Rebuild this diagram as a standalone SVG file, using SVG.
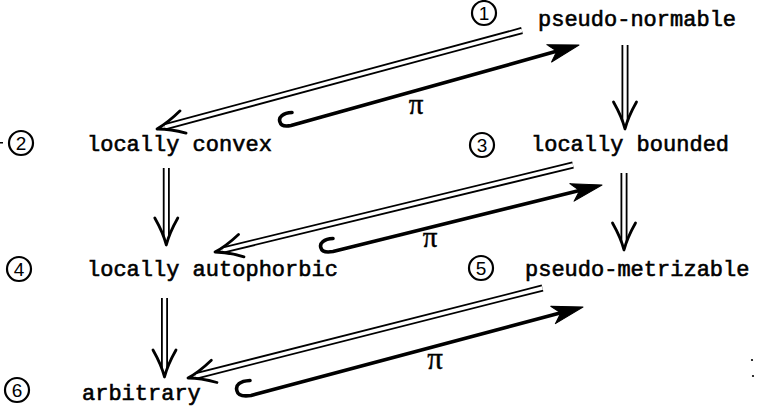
<svg xmlns="http://www.w3.org/2000/svg" xmlns:xlink="http://www.w3.org/1999/xlink" width="768" height="409" viewBox="0 0 768 409">
<style>
.bg{fill:#fff}
.lbl{font-family:"Liberation Mono","Courier New",monospace;font-size:22px;fill:#000;stroke:#000;stroke-width:0.6}
.num{font-family:"Liberation Sans",Arial,sans-serif;font-size:19px;fill:#000;text-anchor:middle}
.ring{fill:none;stroke:#000;stroke-width:2.2}
.pi{font-family:"Liberation Serif","Times New Roman",serif;font-size:29px;fill:#000;stroke:#000;stroke-width:0.4;text-anchor:middle}
.dblO{fill:none;stroke:#000;stroke-width:7}
.dblI{fill:none;stroke:#fff;stroke-width:3.4}
.thick{fill:none;stroke:#000;stroke-width:3.6;stroke-linecap:round;stroke-linejoin:round}
.speck{fill:#000}
</style>
<defs>
<path id="vhead" d="M-27,-11.5 Q-12,-3 0,0 Q-12,3 -27,11.5" fill="none" stroke="#000" stroke-width="2.8" stroke-linecap="round" stroke-linejoin="round"/>
<path id="fhead" d="M0,0 L-31,-9 L-23,0 L-31,9 Z" fill="#000" stroke="#000" stroke-width="1" stroke-linejoin="round"/>
</defs>
<rect class="bg" x="0" y="0" width="768" height="409"/>

<g id="connectors">
  <!-- 1 -> 2 double -->
  <path class="dblO" d="M522,30.5 L164.7,126.9"/>
  <path class="dblI" d="M522,30.5 L164.7,126.9"/>
  <use xlink:href="#vhead" href="#vhead" transform="translate(157,129) rotate(164.9)"/>
  <!-- 2 -> 1 pi -->
  <path class="thick" d="M292,112.5 C283,113 278,117 280,122 C281,126 286,126.5 291,125.5 L561.7,49.8"/>
  <use xlink:href="#fhead" href="#fhead" transform="translate(579,45) rotate(-15.6)"/>
  <text class="pi" x="416" y="114">π</text>

  <!-- 1 -> 3 -->
  <path class="dblO" d="M625,45 V121"/>
  <path class="dblI" d="M625,45 V121"/>
  <use xlink:href="#vhead" href="#vhead" transform="translate(625,129) rotate(90)"/>

  <!-- 2 -> 4 -->
  <path class="dblO" d="M166.3,168 V237"/>
  <path class="dblI" d="M166.3,168 V237"/>
  <use xlink:href="#vhead" href="#vhead" transform="translate(166.3,245) rotate(90)"/>

  <!-- 3 -> 4 double -->
  <path class="dblO" d="M573,165 L222.8,250.1"/>
  <path class="dblI" d="M573,165 L222.8,250.1"/>
  <use xlink:href="#vhead" href="#vhead" transform="translate(215,252) rotate(166.3)"/>
  <!-- 4 -> 3 pi -->
  <path class="thick" d="M333,238.5 C324,239 319,243 321,248 C322,252 327,252.5 333,251.5 L584.5,189.3"/>
  <use xlink:href="#fhead" href="#fhead" transform="translate(602,185) rotate(-13.9)"/>
  <text class="pi" x="430" y="247">π</text>

  <!-- 3 -> 5 -->
  <path class="dblO" d="M624,173 V242"/>
  <path class="dblI" d="M624,173 V242"/>
  <use xlink:href="#vhead" href="#vhead" transform="translate(624,250) rotate(90)"/>

  <!-- 4 -> 6 -->
  <path class="dblO" d="M164.5,298 V369"/>
  <path class="dblI" d="M164.5,298 V369"/>
  <use xlink:href="#vhead" href="#vhead" transform="translate(164.5,377) rotate(90)"/>

  <!-- 5 -> 6 double -->
  <path class="dblO" d="M542.5,288 L195.8,376"/>
  <path class="dblI" d="M542.5,288 L195.8,376"/>
  <use xlink:href="#vhead" href="#vhead" transform="translate(188,378) rotate(165.75)"/>
  <!-- 6 -> 5 pi -->
  <path class="thick" d="M250,380.5 C240,381 235,385 237,391 C238,396 244,396.5 251,395.5 L565.6,311.6"/>
  <use xlink:href="#fhead" href="#fhead" transform="translate(583,307) rotate(-14.9)"/>
  <text class="pi" x="435" y="369" style="font-size:31px">π</text>
</g>

<g id="n1">
  <circle class="ring" cx="484" cy="13" r="12"/>
  <text class="num" x="484" y="20">1</text>
  <text class="lbl" x="538" y="26">pseudo-normable</text>
</g>
<g id="n2">
  <circle class="ring" cx="21" cy="143" r="12"/>
  <text class="num" x="21" y="150">2</text>
  <text class="lbl" x="87" y="151">locally convex</text>
</g>
<g id="n3">
  <circle class="ring" cx="482" cy="145" r="12"/>
  <text class="num" x="482" y="152">3</text>
  <text class="lbl" x="531" y="151">locally bounded</text>
</g>
<g id="n4">
  <circle class="ring" cx="19" cy="269" r="12"/>
  <text class="num" x="19" y="276">4</text>
  <text class="lbl" x="87" y="276">locally autophorbic</text>
</g>
<g id="n5">
  <circle class="ring" cx="481" cy="268" r="12"/>
  <text class="num" x="481" y="275">5</text>
  <text class="lbl" x="525" y="276">pseudo-metrizable</text>
</g>
<g id="n6">
  <circle class="ring" cx="17" cy="390" r="12"/>
  <text class="num" x="17" y="397">6</text>
  <text class="lbl" x="82" y="400">arbitrary</text>
</g>

<g id="specks">
  <circle class="speck" cx="752" cy="360" r="1.1"/>
  <circle class="speck" cx="753" cy="376" r="1.1"/>
  <rect class="speck" x="0" y="142" width="3" height="1.5"/>
</g>
</svg>
